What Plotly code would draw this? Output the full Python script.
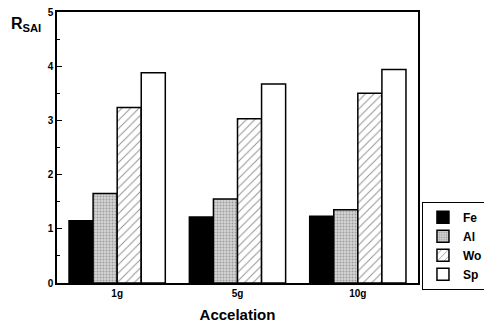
import plotly.graph_objects as go

categories = ["1g", "5g", "10g"]
series_names = ["Fe", "Al", "Wo", "Sp"]
fe_values = [1.15, 1.22, 1.23]
al_values = [1.65, 1.55, 1.35]
wo_values = [3.24, 3.03, 3.50]
sp_values = [3.88, 3.67, 3.94]
y_ticks = [0, 1, 2, 3, 4, 5]

series_values = [fe_values, al_values, wo_values, sp_values]
styles = [
    dict(color="black", pattern=None),
    dict(color="#c8c8c8", pattern=dict(shape=".", fgcolor="#666666", bgcolor="#d4d4d4", size=3, solidity=0.35)),
    dict(color="white", pattern=dict(shape="/", fgcolor="#222222", bgcolor="white", size=6, solidity=0.16)),
    dict(color="white", pattern=None),
]

FONT = "Liberation Sans, Arial, sans-serif"

fig = go.Figure()
for name, vals, st in zip(series_names, series_values, styles):
    marker = dict(color=st["color"], line=dict(color="black", width=1.5))
    if st["pattern"] is not None:
        marker["pattern"] = st["pattern"]
    fig.add_trace(go.Bar(x=categories, y=vals, name=name, marker=marker))

# page body has an 8px default margin, so the figure is 8px smaller
fig.update_layout(
    width=484, height=316,
    margin=dict(l=49, r=74, t=4, b=41, autoexpand=False),
    barmode="group", bargap=0.2, bargroupgap=0,
    plot_bgcolor="white", paper_bgcolor="white",
    font=dict(family=FONT, color="black"),
    showlegend=True,
    legend=dict(
        x=1.011, y=0.3, xanchor="left", yanchor="top",
        bordercolor="black", borderwidth=1, bgcolor="white",
        font=dict(size=12, family=FONT, weight="bold"),
        tracegroupgap=0, itemwidth=30,
    ),
    xaxis=dict(
        showline=True, linecolor="black", linewidth=1.5, mirror=True,
        ticks="", tickfont=dict(size=10, weight="bold"),
        title=dict(text="Accelation", font=dict(size=15, weight="bold"), standoff=12),
        showgrid=False, automargin=False,
    ),
    yaxis=dict(
        range=[0, 5], tickvals=y_ticks,
        showline=True, linecolor="black", linewidth=1.5, mirror=True,
        ticks="inside", ticklen=5, tickwidth=1.2, tickcolor="black",
        tickfont=dict(size=10, weight="bold"), ticklabeloverflow="allow",
        minor=dict(dtick=0.5, ticks="inside", ticklen=3, tickcolor="black", tickwidth=1),
        showgrid=False, zeroline=False, automargin=False,
    ),
    annotations=[
        dict(text="<b>R<sub>SAI</sub></b>", xref="paper", yref="paper",
             x=-0.134, y=0.955, xanchor="left", yanchor="middle",
             showarrow=False, font=dict(size=16, family=FONT)),
    ],
)

fig.write_html("out.html")
